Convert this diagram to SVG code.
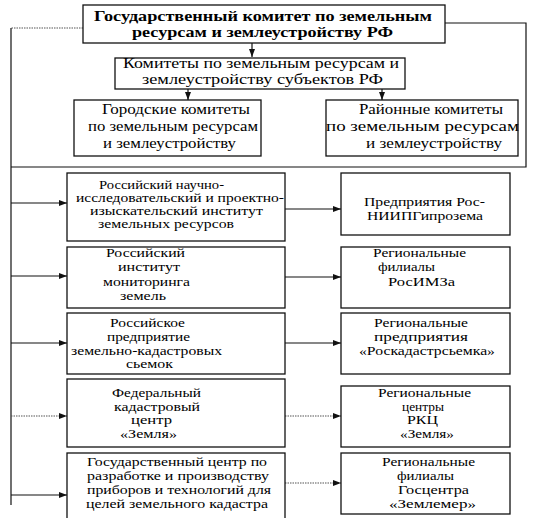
<svg xmlns="http://www.w3.org/2000/svg" width="533" height="518" viewBox="0 0 533 518" font-family="Liberation Serif, DejaVu Serif, serif">
<style>
  .box { fill: #fff; stroke: #111; stroke-width: 1.3; }
  text { fill: #000; }
  .tb { font-size: 15.5px; font-weight: bold; }
  .tm { font-size: 15px; }
  .ts { font-size: 12.5px; }
  .ln { fill: none; stroke: #111; stroke-width: 1.2; }
  .dt { fill: none; stroke: #555; stroke-width: 1.2; stroke-dasharray: 1.5 1; }
</style>
<defs>
  <marker id="ah" viewBox="0 0 8 6" refX="8" refY="3" markerWidth="8" markerHeight="6" markerUnits="userSpaceOnUse" orient="auto">
    <path d="M0,0 L8,3 L0,6 Z" fill="#111"/>
  </marker>
</defs>
<rect width="533" height="518" fill="#fff"/>

<g id="connectors">
  <path class="dt" d="M83,28 H11"/>
  <path class="ln" d="M11,28 V505"/>
  <path class="ln" d="M445,23 H526 V167 H11"/>
  <path class="ln" d="M252,43 V57" marker-end="url(#ah)"/>
  <path class="ln" d="M188,89 V100" marker-end="url(#ah)"/>
  <path class="ln" d="M382,89 V100" marker-end="url(#ah)"/>
  <path class="ln" d="M11,203 H67" marker-end="url(#ah)"/>
  <path class="ln" d="M11,276 H67" marker-end="url(#ah)"/>
  <path class="ln" d="M11,343 H67" marker-end="url(#ah)"/>
  <path class="dt" d="M11,416 H67" marker-end="url(#ah)"/>
  <path class="ln" d="M11,495 H67" marker-end="url(#ah)"/>
  <path class="ln" d="M285,209 H341" marker-end="url(#ah)"/>
  <path class="ln" d="M285,277 H341" marker-end="url(#ah)"/>
  <path class="ln" d="M285,343 H341" marker-end="url(#ah)"/>
  <path class="dt" d="M285,416 H341" marker-end="url(#ah)"/>
  <path class="dt" d="M285,483 H341" marker-end="url(#ah)"/>
</g>

<g id="goskomzem">
  <rect class="box" x="83" y="5" width="362" height="38"/>
  <text class="tb" x="94" y="21" textLength="338" lengthAdjust="spacingAndGlyphs">Государственный комитет по земельным</text>
  <text class="tb" x="132" y="37" textLength="261" lengthAdjust="spacingAndGlyphs">ресурсам и землеустройству РФ</text>
</g>

<g id="subjects">
  <rect class="box" x="115" y="58" width="290" height="31"/>
  <text class="tm" x="123" y="68" textLength="276" lengthAdjust="spacingAndGlyphs">Комитеты по земельным ресурсам и</text>
  <text class="tm" x="142" y="84" textLength="241" lengthAdjust="spacingAndGlyphs">землеустройству субъектов РФ</text>
</g>

<g id="city">
  <rect class="box" x="74" y="100" width="187" height="56"/>
  <text class="tm" x="102" y="114" textLength="148" lengthAdjust="spacingAndGlyphs">Городские комитеты</text>
  <text class="tm" x="88" y="131" textLength="170" lengthAdjust="spacingAndGlyphs">по земельным ресурсам</text>
  <text class="tm" x="103" y="148" textLength="133" lengthAdjust="spacingAndGlyphs">и землеустройству</text>
</g>

<g id="district">
  <rect class="box" x="326" y="100" width="192" height="56"/>
  <text class="tm" x="359" y="114" textLength="144" lengthAdjust="spacingAndGlyphs">Районные комитеты</text>
  <text class="tm" x="326" y="131" textLength="193" lengthAdjust="spacingAndGlyphs">по земельным ресурсам</text>
  <text class="tm" x="366" y="148" textLength="136" lengthAdjust="spacingAndGlyphs">и землеустройству</text>
</g>

<g id="rosniipgiprozem">
  <rect class="box" x="67" y="173" width="218" height="68"/>
  <text class="ts" x="99" y="189" textLength="125" lengthAdjust="spacingAndGlyphs">Российский научно-</text>
  <text class="ts" x="76" y="202" textLength="208" lengthAdjust="spacingAndGlyphs">исследовательский и проектно-</text>
  <text class="ts" x="90" y="215" textLength="173" lengthAdjust="spacingAndGlyphs">изыскательский институт</text>
  <text class="ts" x="98" y="228" textLength="136" lengthAdjust="spacingAndGlyphs">земельных ресурсов</text>
</g>

<g id="rosniipgiprozem-enterprises">
  <rect class="box" x="341" y="173" width="169" height="62"/>
  <text class="ts" x="364" y="206" textLength="121" lengthAdjust="spacingAndGlyphs">Предприятия Рос-</text>
  <text class="ts" x="367" y="220" textLength="116" lengthAdjust="spacingAndGlyphs">НИИПГипрозема</text>
</g>

<g id="rosimz">
  <rect class="box" x="67" y="247" width="218" height="61"/>
  <text class="ts" x="106" y="257" textLength="79" lengthAdjust="spacingAndGlyphs">Российский</text>
  <text class="ts" x="118" y="271" textLength="62" lengthAdjust="spacingAndGlyphs">институт</text>
  <text class="ts" x="103" y="286" textLength="87" lengthAdjust="spacingAndGlyphs">мониторинга</text>
  <text class="ts" x="120" y="300" textLength="46" lengthAdjust="spacingAndGlyphs">земель</text>
</g>

<g id="rosimz-branches">
  <rect class="box" x="341" y="247" width="169" height="61"/>
  <text class="ts" x="373" y="257" textLength="93" lengthAdjust="spacingAndGlyphs">Региональные</text>
  <text class="ts" x="378" y="271" textLength="57" lengthAdjust="spacingAndGlyphs">филиалы</text>
  <text class="ts" x="388" y="286" textLength="67" lengthAdjust="spacingAndGlyphs">РосИМЗа</text>
</g>

<g id="roskadastrsemka">
  <rect class="box" x="67" y="313" width="218" height="61"/>
  <text class="ts" x="110" y="327" textLength="75" lengthAdjust="spacingAndGlyphs">Российское</text>
  <text class="ts" x="107" y="341" textLength="83" lengthAdjust="spacingAndGlyphs">предприятие</text>
  <text class="ts" x="71" y="355" textLength="151" lengthAdjust="spacingAndGlyphs">земельно-кадастровых</text>
  <text class="ts" x="126" y="368" textLength="47" lengthAdjust="spacingAndGlyphs">сьемок</text>
</g>

<g id="roskadastrsemka-regional">
  <rect class="box" x="341" y="313" width="169" height="61"/>
  <text class="ts" x="374" y="327" textLength="94" lengthAdjust="spacingAndGlyphs">Региональные</text>
  <text class="ts" x="374" y="341" textLength="94" lengthAdjust="spacingAndGlyphs">предприятия</text>
  <text class="ts" x="359" y="355" textLength="136" lengthAdjust="spacingAndGlyphs">«Роскадастрсьемка»</text>
</g>

<g id="fkc-zemlya">
  <rect class="box" x="67" y="379" width="218" height="68"/>
  <text class="ts" x="112" y="397" textLength="89" lengthAdjust="spacingAndGlyphs">Федеральный</text>
  <text class="ts" x="114" y="411" textLength="86" lengthAdjust="spacingAndGlyphs">кадастровый</text>
  <text class="ts" x="131" y="424" textLength="41" lengthAdjust="spacingAndGlyphs">центр</text>
  <text class="ts" x="120" y="438" textLength="57" lengthAdjust="spacingAndGlyphs">«Земля»</text>
</g>

<g id="rkc-zemlya">
  <rect class="box" x="341" y="386" width="169" height="61"/>
  <text class="ts" x="378" y="397" textLength="93" lengthAdjust="spacingAndGlyphs">Региональные</text>
  <text class="ts" x="402" y="411" textLength="42" lengthAdjust="spacingAndGlyphs">центры</text>
  <text class="ts" x="407" y="424" textLength="31" lengthAdjust="spacingAndGlyphs">РКЦ</text>
  <text class="ts" x="400" y="438" textLength="54" lengthAdjust="spacingAndGlyphs">«Земля»</text>
</g>

<g id="goscentr-zemlemer">
  <rect class="box" x="67" y="453" width="218" height="70"/>
  <text class="ts" x="87" y="466" textLength="180" lengthAdjust="spacingAndGlyphs">Государственный центр по</text>
  <text class="ts" x="87" y="480" textLength="182" lengthAdjust="spacingAndGlyphs">разработке и производству</text>
  <text class="ts" x="87" y="494" textLength="184" lengthAdjust="spacingAndGlyphs">приборов и технологий для</text>
  <text class="ts" x="86" y="508" textLength="182" lengthAdjust="spacingAndGlyphs">целей земельного кадастра</text>
</g>

<g id="goscentr-branches">
  <rect class="box" x="341" y="453" width="169" height="61"/>
  <text class="ts" x="382" y="466" textLength="93" lengthAdjust="spacingAndGlyphs">Региональные</text>
  <text class="ts" x="397" y="480" textLength="57" lengthAdjust="spacingAndGlyphs">филиалы</text>
  <text class="ts" x="398" y="494" textLength="71" lengthAdjust="spacingAndGlyphs">Госцентра</text>
  <text class="ts" x="389" y="508" textLength="87" lengthAdjust="spacingAndGlyphs">«Землемер»</text>
</g>
</svg>
